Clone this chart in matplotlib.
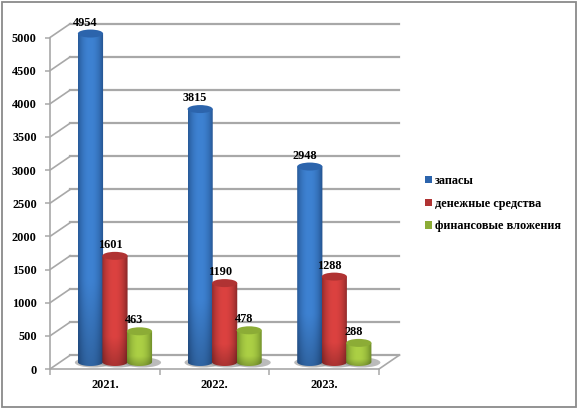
import numpy as np
import matplotlib
matplotlib.use("Agg")
import matplotlib.pyplot as plt
from matplotlib.patches import Ellipse, Rectangle, PathPatch, Patch
from matplotlib.path import Path

categories = ["2021.", "2022.", "2023."]
series_names = ["запасы", "денежные средства", "финансовые вложения"]
zapasy = [4954, 3815, 2948]
dengi = [1601, 1190, 1288]
vlozheniya = [463, 478, 288]
y_ticks = list(range(0, 5001, 500))

W, H = 578, 408
plt.rcParams["font.family"] = ["Liberation Serif", "DejaVu Serif"]
fig = plt.figure(figsize=(W / 100, H / 100), dpi=100, facecolor="white")
fig.add_artist(Rectangle((1.5 / W, 1 / H), (W - 3.5) / W, (H - 2.5) / H, transform=fig.transFigure,
                         fill=False, ec="#8a8a8a", lw=1.3))

L, R, T, B = 50, 379, 37.5, 369
ax = fig.add_axes([L / W, 1 - B / H, (R - L) / W, (B - T) / H])
ax.patch.set_alpha(0)
ax.set_xlim(0, 3)
ax.set_ylim(0, 5000)
px_x = 3 / (R - L)
px_y = 5000 / (B - T)
GRID = "#a8a8a8"
dx, dy = 20.5 * px_x, 14 * px_y

# walls
for v in y_ticks:
    ax.plot([0, dx], [v, v + dy], color=GRID, lw=1.2, clip_on=False, zorder=1, solid_capstyle="round")
    ax.plot([dx, 3 + dx], [v + dy, v + dy], color=GRID, lw=1.6, clip_on=False, zorder=1)
ax.plot([3, 3 + dx], [0, dy], color=GRID, lw=1.2, clip_on=False, zorder=1)

colors = [
    (np.array([0x25, 0x55, 0x92]), np.array([0x3e, 0x82, 0xd2]), np.array([0x2c, 0x64, 0xac])),
    (np.array([0x8e, 0x2a, 0x2a]), np.array([0xdc, 0x42, 0x40]), np.array([0xb0, 0x33, 0x33])),
    (np.array([0x70, 0x8e, 0x2a]), np.array([0xac, 0xd0, 0x45]), np.array([0x8c, 0xac, 0x36])),
]
first = 0.369
slot = 0.2234
half = 12.6 * px_x
base = 7 * px_y
ry = 4 * px_y


def gradient(edge, centre):
    t = np.linspace(-1, 1, 48)
    s = np.linspace(0, 1, 60)
    prof = (1 - np.abs(t + 0.05) ** 2.2)[None, :, None]
    shade = (0.78 + 0.22 * np.clip(s / 0.25, 0, 1))[:, None, None]
    img = (edge + (centre - edge) * prof) * shade
    return np.clip(img / 255, 0, 1)


for k, values in enumerate([zapasy, dengi, vlozheniya]):
    edge, centre, top = colors[k]
    for i, v in enumerate(values):
        c = i + first + k * slot
        x0, x1 = c - half, c + half
        y0, y1 = base, base + v
        ax.add_patch(Ellipse((c + 3 * px_x, base - 0.5 * px_y), 2 * half + 12 * px_x, 2 * ry + 2 * px_y,
                             fc="#8f8f8f", ec="none", alpha=0.6, zorder=2, clip_on=False))
        im = ax.imshow(gradient(edge, centre), extent=[x0, x1, y0 - ry, y1 + ry], origin="lower",
                       aspect="auto", zorder=3 + k, interpolation="bilinear")
        th = np.linspace(np.pi, 2 * np.pi, 30)
        xs = np.r_[c + half * np.cos(th), c + half, c - half, c - half]
        ys = np.r_[y0 + ry * np.sin(th), y1, y1, y0]
        clip = PathPatch(Path(np.c_[xs, ys]), transform=ax.transData, fc="none", ec="none")
        ax.add_patch(clip)
        im.set_clip_box(fig.bbox)
        im.set_clip_path(clip)
        ax.add_patch(Ellipse((c, y1), 2 * half, 2 * ry, fc=top / 255, ec="none", zorder=3.5 + k, clip_on=False))
        ax.annotate(str(v), (c, y1), xytext=(-5, 11), textcoords="offset pixels", ha="center", va="center",
                    fontsize=8.8, fontweight="bold", color="black", zorder=10, annotation_clip=False)

ax.set_xlim(0, 3)
ax.set_ylim(0, 5000)

for s in ("top", "right"):
    ax.spines[s].set_visible(False)
for s in ("left", "bottom"):
    ax.spines[s].set_color(GRID)
    ax.spines[s].set_linewidth(1.2)
ax.set_yticks(y_ticks)
ax.set_yticklabels([str(v) for v in y_ticks], fontsize=8.8, fontweight="bold")
ax.tick_params(axis="y", length=3.5, width=1.1, color=GRID, pad=6)
ax.set_xticks([0, 1, 2, 3])
ax.set_xticklabels([])
ax.tick_params(axis="x", which="major", length=4, width=1.1, color=GRID)
ax.set_xticks([0.5, 1.5, 2.5], minor=True)
ax.set_xticklabels(categories, minor=True, fontsize=8.8, fontweight="bold")
ax.tick_params(axis="x", which="minor", length=0, pad=7)

handles = [Patch(fc=c[2] / 255, ec="none") for c in colors]
fig.legend(handles, series_names, loc="upper left", bbox_to_anchor=(422.6 / W, 1 - 172.5 / H), frameon=False,
           prop={"size": 8.8, "weight": "bold"}, handlelength=0.57, handleheight=0.57,
           handletextpad=0.25, labelspacing=0.88, borderpad=0.2, borderaxespad=0)

fig.savefig("out.png", dpi=100)
